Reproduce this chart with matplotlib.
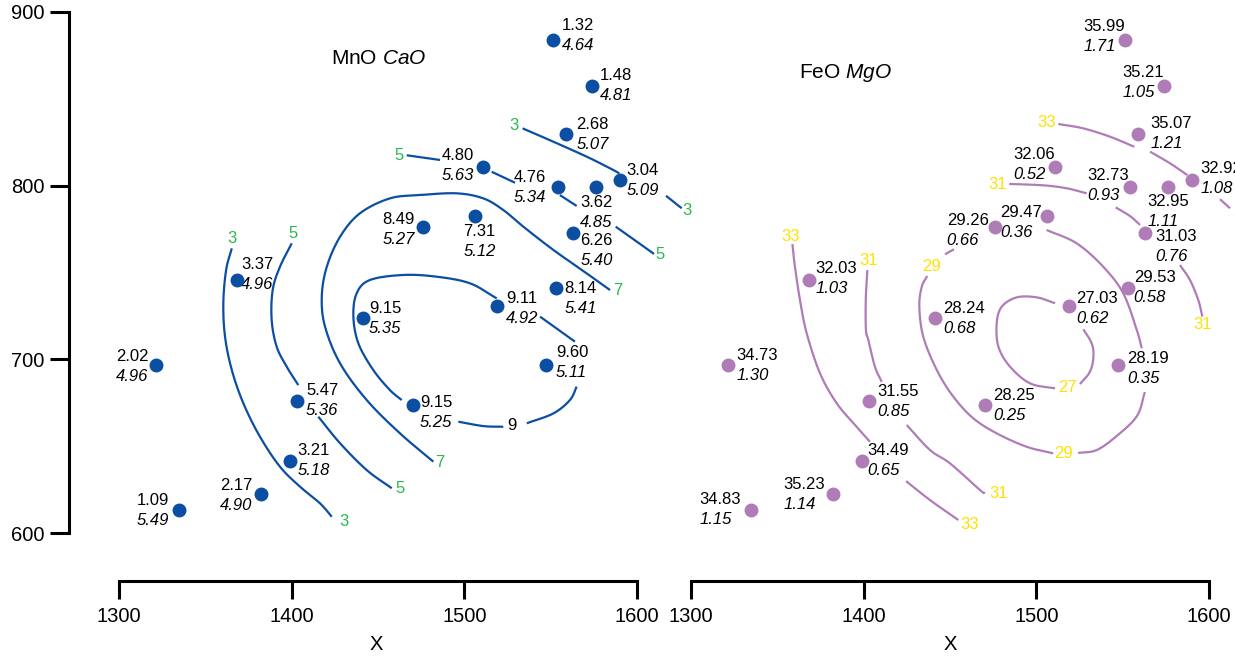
import matplotlib
matplotlib.use("Agg")
import matplotlib.pyplot as plt
import numpy as np

plt.rcParams['font.family'] = ['Liberation Sans', 'DejaVu Sans']
plt.rcParams['mathtext.fontset'] = 'custom'
plt.rcParams['mathtext.rm'] = 'Liberation Sans'
plt.rcParams['mathtext.it'] = 'Liberation Sans:italic'

# ---------------- data ----------------
# sample positions (shared by both panels)
X = [1551, 1574, 1559, 1590, 1511, 1554, 1576, 1563, 1476, 1506, 1553,
     1519, 1547, 1470, 1441, 1368.5, 1321.5, 1403, 1399, 1382, 1335]
Y = [883.6, 857.3, 830, 803.5, 811, 799.3, 799, 773, 776, 782.5, 741,
     731, 697, 674, 723.6, 745.5, 696.5, 676, 641.5, 622.4, 613.5]

MnO = ["1.32", "1.48", "2.68", "3.04", "4.80", "4.76", "3.62", "6.26", "8.49", "7.31", "8.14",
       "9.11", "9.60", "9.15", "9.15", "3.37", "2.02", "5.47", "3.21", "2.17", "1.09"]
CaO = ["4.64", "4.81", "5.07", "5.09", "5.63", "5.34", "4.85", "5.40", "5.27", "5.12", "5.41",
       "4.92", "5.11", "5.25", "5.35", "4.96", "4.96", "5.36", "5.18", "4.90", "5.49"]
FeO = ["35.99", "35.21", "35.07", "32.92", "32.06", "32.73", "32.95", "31.03", "29.26", "29.47", "29.53",
       "27.03", "28.19", "28.25", "28.24", "32.03", "34.73", "31.55", "34.49", "35.23", "34.83"]
MgO = ["1.71", "1.05", "1.21", "1.08", "0.52", "0.93", "1.11", "0.76", "0.66", "0.36", "0.58",
       "0.62", "0.35", "0.25", "0.68", "1.03", "1.30", "0.85", "0.65", "1.14", "1.15"]

# contour lines (segments between labels), MnO panel
MNO_LINES = {
    "3_left": [([1365.3, 1362.0, 1360.4, 1361.4, 1365.3, 1372.0, 1381.6, 1393.2, 1404.8, 1416.4, 1423.2],
                [763.9, 751.4, 732.3, 713.0, 693.9, 674.7, 655.5, 638.2, 626.7, 617.1, 609.4])],
    "5_left": [([1400.0, 1393.2, 1389.0, 1388.4, 1391.3, 1397.1, 1403.8],
                [766.8, 753.3, 740.0, 722.7, 707.3, 695.8, 685.2]),
               ([1415.4, 1428.0, 1443.4, 1457.9],
                [667.0, 651.7, 636.3, 625.8])],
    "7": [([1482.0, 1462.7, 1443.4, 1428.0, 1419.3, 1417.4, 1420.3, 1428.0, 1439.5, 1456.9, 1474.3,
            1495.5, 1510.9, 1522.5, 1534.1, 1551.5, 1570.8, 1584.3],
           [641.1, 657.4, 676.6, 697.7, 718.8, 736.1, 753.3, 770.6, 784.1, 792.7, 794.6,
            795.6, 792.7, 786.0, 776.4, 763.0, 749.5, 739.9])],
    "9": [([1518.7, 1503.2, 1483.9, 1464.6, 1445.3, 1437.6, 1435.7, 1438.6, 1447.2, 1456.9, 1463.7],
           [735.1, 743.8, 747.6, 748.6, 745.7, 738.0, 724.6, 709.2, 693.9, 682.3, 676.6]),
          ([1496.5, 1511.0, 1522.5], [664.1, 661.6, 661.2]),
          ([1536.1, 1551.5, 1561.1, 1565.0], [663.2, 668.9, 676.6, 684.3]),
          ([1543.8, 1564.0], [724.6, 710.2])],
    "5_top": [([1466.6, 1485.9], [817.5, 814.8]),
              ([1515.8, 1529.3], [808.0, 801.7]),
              ([1555.3, 1565.0], [794.6, 788.3]),
              ([1587.6, 1609.8], [776.4, 760.7])],
    "3_top": [([1533.7, 1551.5, 1570.8, 1584.3, 1589.7], [833.0, 825.3, 816.7, 810.0, 807.1]),
              ([1616.7, 1625.8], [794.2, 787.0])],
}
MNO_LEVEL_LABELS = [("3", 1365.4, 769.7), ("3", 1430.5, 606.5), ("5", 1400.5, 772.6),
                    ("5", 1462.6, 625.8), ("7", 1486.0, 640.5), ("7", 1588.8, 739.9),
                    ("9", 1527.7, 662.2), ("5", 1462.1, 817.5), ("5", 1613.2, 760.1),
                    ("3", 1528.6, 834.9), ("3", 1629.0, 785.6)]

# contour lines, FeO panel
FEO_LINES = {
    "33_left": [([1358.7, 1360.2, 1363.1, 1367.0, 1374.7, 1384.4, 1395.9, 1403.6],
                 [766.4, 753.3, 734.2, 715.0, 692.0, 674.7, 661.2, 652.6]),
                ([1424.5, 1438.4, 1454.8], [629.9, 619.0, 607.5])],
    "31_left": [([1402.1, 1401.2, 1401.3, 1402.7, 1406.5, 1410.4],
                 [751.4, 734.2, 716.9, 711.1, 695.8, 687.1]),
                ([1424.9, 1438.4, 1450.0, 1467.3, 1470.2],
                 [662.2, 647.8, 640.1, 624.8, 622.9])],
    "29": [([1447.1, 1452.3], [760.5, 763.4]),
           ([1505.9, 1523.3, 1538.7, 1550.3, 1558.1, 1561.0],
            [774.5, 766.8, 753.3, 738.0, 716.9, 706.4]),
           ([1562.8, 1558.2, 1546.5, 1534.9, 1524.2],
            [681.2, 667.4, 655.9, 647.8, 646.1]),
           ([1509.7, 1494.3, 1477.0, 1463.4, 1451.9, 1442.3, 1434.5, 1432.2, 1433.6, 1436.8],
            [645.9, 649.7, 657.4, 666.1, 678.5, 693.9, 713.0, 730.3, 741.8, 748.0])],
    "27": [([1510.8, 1500.2, 1488.6, 1479.9, 1477.0, 1478.0, 1484.7, 1496.3, 1510.8],
            [732.3, 735.7, 735.7, 730.3, 720.8, 707.3, 695.8, 686.2, 683.3]),
           ([1525.2, 1531.0, 1533.0, 1532.0, 1527.2],
            [685.8, 692.9, 701.5, 709.2, 717.3])],
    "31_top": [([1484.3, 1504.0, 1517.5, 1529.1], [801.0, 800.2, 798.5, 795.6]),
               ([1545.9, 1554.2, 1560.0], [787.5, 782.5, 777.4]),
               ([1583.1, 1588.9, 1593.7, 1596.1], [754.3, 745.7, 734.2, 724.6])],
    "33_top": [([1512.7, 1527.1, 1542.6, 1556.7], [835.5, 833.0, 828.2, 822.4]),
               ([1565.8, 1577.3, 1587.4], [819.6, 812.9, 806.1]),
               ([1606.3, 1612.1], [792.2, 787.0])],
}
FEO_LEVEL_LABELS = [("33", 1357.7, 771.0), ("33", 1461.5, 605.2), ("31", 1403.1, 757.2),
                    ("31", 1477.9, 622.5), ("29", 1439.4, 753.7), ("29", 1515.5, 645.9),
                    ("27", 1517.9, 683.9), ("31", 1477.6, 800.4), ("31", 1596.1, 719.8),
                    ("33", 1505.9, 836.3), ("33", 1619.4, 783.7)]

# ---------------- layout / style ----------------
# label offsets (pixels) of each point's two-line label, per panel
OFF_L = [(9.2, -15), (7.3, -10.7), (10.3, -9), (6.4, -9), (-41.3, -10.7), (-44, -9.3), (-15.6, 15),
         (7, 7.7), (-40.7, -8.3), (-11.3, 15), (8.3, 0.3), (8.6, -7.3), (10.4, -11.6), (7.4, -1.7),
         (6.4, -10), (4, -15.4), (-40.3, -9.3), (9, -10.4), (7.3, -10), (-40.3, -8.7), (-42.7, -9)]
OFF_R = [(-41, -14.4), (-41.6, -14), (12.3, -10), (8.3, -10.7), (-42.3, -12.4), (-42.3, -11.7),
         (-20.3, 14), (9.7, 4), (-48.3, -6.6), (-46.4, -3.6), (5.7, -10.3), (6.6, -7.4), (9.4, -6),
         (8.3, -9), (8.3, -10), (6, -12.3), (8.3, -10), (8.3, -9.6), (5, -10.6), (-49, -10), (-51.7, -10)]

BLUE = "#0b4ea2"
GREEN = "#2cb84f"
PURPLE = "#b07cb8"
YELLOW = "#ffe100"
LW = 1.6
FS_PT = 12
FS_AX = 14.5

W, H = 1235, 657
fig = plt.figure(figsize=(W / 100, H / 100), dpi=100)

ylim = (572.4, 906.9)
axL = fig.add_axes([69 / W, 76 / H, 591 / W, 581 / H])
axR = fig.add_axes([672 / W, 76 / H, 563 / W, 581 / H])
axL.set_xlim(1271.05, 1613.24)
axR.set_xlim(1289.0, 1614.98)
for ax, lx in ((axL, 0.5206), (axR, 0.4938)):
    ax.set_ylim(*ylim)
    ax.patch.set_alpha(0)
    for s in ("top", "right"):
        ax.spines[s].set_visible(False)
    ax.spines["bottom"].set_bounds(1300, 1600)
    ax.spines["bottom"].set_linewidth(2.2)
    ax.set_xticks([1300, 1400, 1500, 1600])
    ax.tick_params(axis="x", direction="out", length=13, width=2.2, pad=6, labelsize=FS_AX)
    ax.set_xlabel("X", fontsize=FS_AX)
    ax.xaxis.set_label_coords(lx, -0.093)

axL.spines["left"].set_bounds(600, 900)
axL.spines["left"].set_linewidth(2.2)
axL.set_yticks([600, 700, 800, 900])
axL.tick_params(axis="y", direction="out", length=13.5, width=2.2, pad=4, labelsize=FS_AX)
axR.spines["left"].set_visible(False)
axR.set_yticks([])


def smooth(xs, ys, n=16):
    """Catmull-Rom curve through the read vertices (rendering only)."""
    p = np.column_stack([xs, ys]).astype(float)
    if len(p) < 3:
        return p[:, 0], p[:, 1]
    ext = np.vstack([2 * p[0] - p[1], p, 2 * p[-1] - p[-2]])
    out = []
    t = np.linspace(0, 1, n, endpoint=False)[:, None]
    for i in range(1, len(ext) - 2):
        p0, p1, p2, p3 = ext[i - 1], ext[i], ext[i + 1], ext[i + 2]
        c = 0.5 * ((2 * p1) + (-p0 + p2) * t + (2 * p0 - 5 * p1 + 4 * p2 - p3) * t ** 2
                   + (-p0 + 3 * p1 - 3 * p2 + p3) * t ** 3)
        out.append(c)
    out.append(p[-1][None, :])
    out = np.vstack(out)
    return out[:, 0], out[:, 1]


def draw_panel(ax, v1, v2, offs, lines, lvl_labels, col, lcol, title):
    for segs in lines.values():
        for xs, ys in segs:
            sx, sy = smooth(xs, ys)
            ax.plot(sx, sy, color=col, lw=LW, clip_on=False, solid_capstyle="butt")
    for txt, x, y in lvl_labels:
        c = "black" if txt == "9" else lcol
        ax.text(x, y, txt, color=c, fontsize=12, ha="center", va="center")
    ax.plot(X, Y, "o", ms=9, color=col, mec=col, clip_on=False, zorder=5)
    for x, y, a, b, (dx, dy) in zip(X, Y, v1, v2, offs):
        ax.annotate(a, (x, y), xytext=(dx, -dy), textcoords="offset pixels",
                    ha="left", va="center", fontsize=FS_PT, color="black")
        ax.annotate(b, (x, y), xytext=(dx, -dy - 20), textcoords="offset pixels",
                    ha="left", va="center", fontsize=FS_PT, color="black", style="italic")
    ax.text(title[1], title[2], title[0], fontsize=15, ha="center", va="center")


draw_panel(axL, MnO, CaO, OFF_L, MNO_LINES, MNO_LEVEL_LABELS, BLUE, GREEN,
           (r"MnO $\mathit{CaO}$", 1450.5, 873.5))
draw_panel(axR, FeO, MgO, OFF_R, FEO_LINES, FEO_LEVEL_LABELS, PURPLE, YELLOW,
           (r"FeO $\mathit{MgO}$", 1389.2, 864.7))

fig.savefig("out.png", dpi=100)
